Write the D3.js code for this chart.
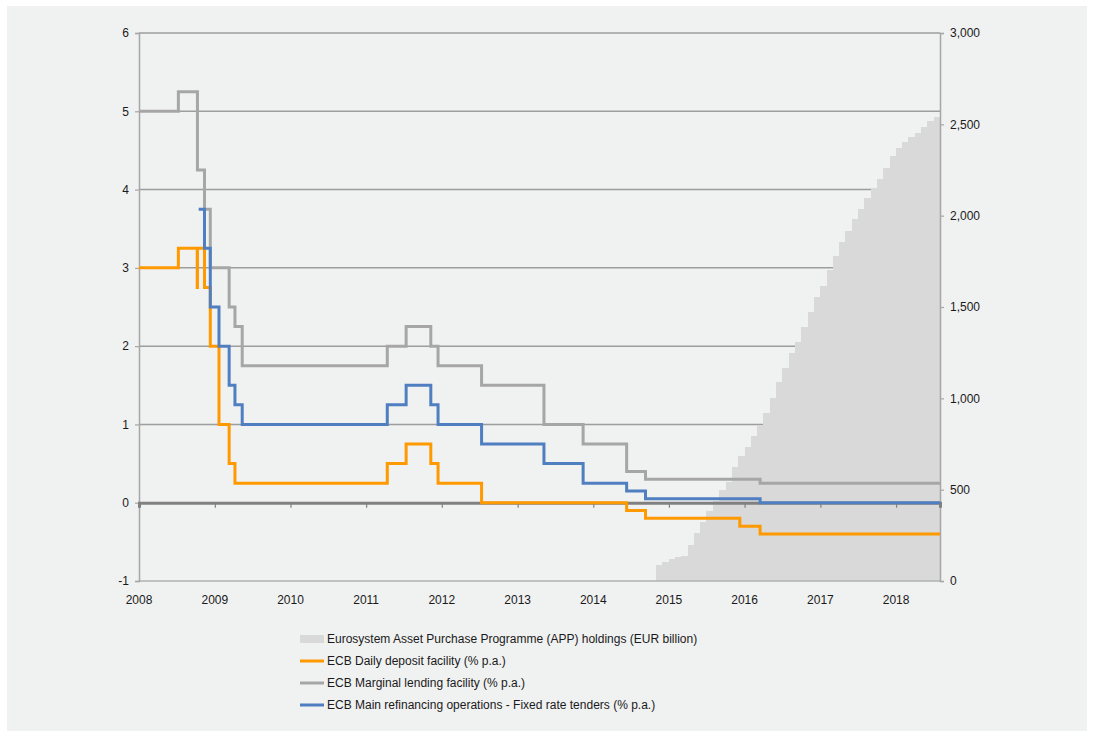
<!DOCTYPE html>
<html>
<head>
<meta charset="utf-8">
<script src="https://cdn.jsdelivr.net/npm/d3@7"></script>
<style>
  html, body { margin: 0; padding: 0; background: #ffffff; }
  svg { display: block; font-family: "Liberation Sans", Arial, sans-serif; }
</style>
</head>
<body>
<svg id="chart" width="1093" height="731"></svg>
<script>
// ---------------- DATA ----------------
const yearTicks = [2008, 2009, 2010, 2011, 2012, 2013, 2014, 2015, 2016, 2017, 2018];
const leftTicks = [-1, 0, 1, 2, 3, 4, 5, 6];
const rightTicks = [0, 500, 1000, 1500, 2000, 2500, 3000];

const appMonths = [
  "2014-11","2014-12",
  "2015-01","2015-02","2015-03","2015-04","2015-05","2015-06","2015-07","2015-08","2015-09","2015-10","2015-11","2015-12",
  "2016-01","2016-02","2016-03","2016-04","2016-05","2016-06","2016-07","2016-08","2016-09","2016-10","2016-11","2016-12",
  "2017-01","2017-02","2017-03","2017-04","2017-05","2017-06","2017-07","2017-08","2017-09","2017-10","2017-11","2017-12",
  "2018-01","2018-02","2018-03","2018-04","2018-05","2018-06","2018-07"
];
const appHoldings = [
  88, 102,
  119, 130, 137, 197, 261, 325, 385, 440, 498, 544, 622, 684,
  732, 794, 854, 918, 1000, 1091, 1164, 1246, 1307, 1389, 1471, 1556,
  1615, 1703, 1779, 1856, 1916, 1982, 2038, 2097, 2148, 2202, 2262, 2327,
  2370, 2401, 2431, 2453, 2483, 2518, 2540
];

const depositDates = ["2008-01-01","2008-07-09","2008-10-08","2008-10-09","2008-11-12","2008-12-10","2009-01-21","2009-03-11","2009-04-08","2011-04-13","2011-07-13","2011-11-09","2011-12-14","2012-07-11","2014-06-11","2014-09-10","2015-12-09","2016-03-16"];
const depositRates = [3.00, 3.25, 2.75, 3.25, 2.75, 2.00, 1.00, 0.50, 0.25, 0.50, 0.75, 0.50, 0.25, 0.00, -0.10, -0.20, -0.30, -0.40];

const lendingDates = ["2008-01-01","2008-07-09","2008-10-09","2008-11-12","2008-12-10","2009-03-11","2009-04-08","2009-05-13","2011-04-13","2011-07-13","2011-11-09","2011-12-14","2012-07-11","2013-05-08","2013-11-13","2014-06-11","2014-09-10","2016-03-16"];
const lendingRates = [5.00, 5.25, 4.25, 3.75, 3.00, 2.50, 2.25, 1.75, 2.00, 2.25, 2.00, 1.75, 1.50, 1.00, 0.75, 0.40, 0.30, 0.25];

const mroDates = ["2008-10-15","2008-11-12","2008-12-10","2009-01-21","2009-03-11","2009-04-08","2009-05-13","2011-04-13","2011-07-13","2011-11-09","2011-12-14","2012-07-11","2013-05-08","2013-11-13","2014-06-11","2014-09-10","2016-03-16"];
const mroRates = [3.75, 3.25, 2.50, 2.00, 1.50, 1.25, 1.00, 1.25, 1.50, 1.25, 1.00, 0.75, 0.50, 0.25, 0.15, 0.05, 0.00];

const startDate = "2008-01-01";
const endDate = "2018-08-01";

const legendLabels = [
  "Eurosystem Asset Purchase Programme (APP) holdings (EUR billion)",
  "ECB Daily deposit facility (% p.a.)",
  "ECB Marginal lending facility (% p.a.)",
  "ECB Main refinancing operations - Fixed rate tenders (% p.a.)"
];

// ---------------- DRAW ----------------
const parse = d3.timeParse("%Y-%m-%d");
const parseM = d3.timeParse("%Y-%m");
const svg = d3.select("#chart");

const colors = { app: "#d9d9d9", deposit: "#ff9900", lending: "#a6a6a6", mro: "#4f7fc0" };

// panel background
svg.append("rect").attr("x", 7).attr("y", 6).attr("width", 1080).attr("height", 726).attr("fill", "#f0f1f1");

const plot = { left: 139, right: 940, top: 33, bottom: 581 };

const x = d3.scaleTime().domain([parse(startDate), parse(endDate)]).range([plot.left, plot.right]);
const yL = d3.scaleLinear().domain([-1, 6]).range([plot.bottom, plot.top]);
const yR = d3.scaleLinear().domain([0, 3000]).range([plot.bottom, plot.top]);

// gridlines
svg.append("g").selectAll("line").data(leftTicks.filter(v => v !== 0 && v !== -1)).join("line")
  .attr("x1", plot.left).attr("x2", plot.right)
  .attr("y1", d => yL(d)).attr("y2", d => yL(d))
  .attr("stroke", "#9d9d9d").attr("stroke-width", 1.5);

// APP bars
const appData = appMonths.map((m, i) => ({ start: parseM(m), value: appHoldings[i] }));
svg.append("g").selectAll("rect").data(appData).join("rect")
  .attr("x", d => x(d.start))
  .attr("width", d => x(d3.timeMonth.offset(d.start, 1)) - x(d.start) + 0.4)
  .attr("y", d => yR(d.value))
  .attr("height", d => yR(0) - yR(d.value))
  .attr("fill", colors.app)
  .attr("shape-rendering", "crispEdges");

// bottom line at -1
svg.append("line").attr("x1", plot.left).attr("x2", plot.right)
  .attr("y1", yL(-1)).attr("y2", yL(-1))
  .attr("stroke", "#b0b0b0").attr("stroke-width", 1.5);

// left axis
const gL = svg.append("g").attr("transform", `translate(${plot.left},0)`)
  .call(d3.axisLeft(yL).tickValues(leftTicks).tickSize(4).tickPadding(6).tickFormat(d => String(d)));
gL.select(".domain").attr("stroke", "#a6a6a6").attr("stroke-width", 1.5);
gL.selectAll(".tick line").attr("stroke", "#a6a6a6").attr("stroke-width", 1.2);
gL.selectAll(".tick text").attr("font-size", 12).attr("fill", "#1a1a1a")
  .attr("font-family", "'Liberation Sans', Arial, sans-serif");

// right axis
const gR = svg.append("g").attr("transform", `translate(${plot.right},0)`)
  .call(d3.axisRight(yR).tickValues(rightTicks).tickSize(4).tickPadding(6).tickFormat(d3.format(",")));
gR.select(".domain").attr("stroke", "#a6a6a6").attr("stroke-width", 1.5);
gR.selectAll(".tick line").attr("stroke", "#a6a6a6").attr("stroke-width", 1.2);
gR.selectAll(".tick text").attr("font-size", 12).attr("fill", "#1a1a1a")
  .attr("font-family", "'Liberation Sans', Arial, sans-serif");

// zero axis with year ticks
const gX = svg.append("g").attr("transform", `translate(0,${yL(0)})`)
  .call(d3.axisBottom(x).tickValues(yearTicks.map(y => new Date(y, 0, 1))).tickSize(5).tickFormat(""));
gX.select(".domain").attr("stroke", "#808080").attr("stroke-width", 3);
gX.selectAll(".tick line").attr("stroke", "#808080").attr("stroke-width", 1.2);

// year labels at bottom
svg.append("g").selectAll("text").data(yearTicks).join("text")
  .attr("x", d => x(new Date(d, 0, 1)))
  .attr("y", 604)
  .attr("text-anchor", "middle")
  .attr("font-size", 12).attr("fill", "#1a1a1a")
  .text(d => d);

// rate lines
function series(dates, rates) {
  const pts = dates.map((d, i) => ({ date: parse(d), value: rates[i] }));
  pts.push({ date: parse(endDate), value: rates[rates.length - 1] });
  return pts;
}
const line = d3.line().x(d => x(d.date)).y(d => yL(d.value)).curve(d3.curveStepAfter);

[[depositDates, depositRates, colors.deposit],
 [lendingDates, lendingRates, colors.lending],
 [mroDates, mroRates, colors.mro]].forEach(([dts, rts, c]) => {
  svg.append("path").datum(series(dts, rts))
    .attr("d", line).attr("fill", "none")
    .attr("stroke", c).attr("stroke-width", 3)
    .attr("stroke-linejoin", "miter");
});

// legend
const legY = [639, 661, 683, 705];
const legKeys = ["app", "deposit", "lending", "mro"];
const leg = svg.append("g");
legKeys.forEach((k, i) => {
  if (k === "app") {
    leg.append("rect").attr("x", 300).attr("y", legY[i] - 4).attr("width", 24).attr("height", 8).attr("fill", colors.app);
  } else {
    leg.append("line").attr("x1", 300).attr("x2", 324).attr("y1", legY[i]).attr("y2", legY[i])
      .attr("stroke", colors[k]).attr("stroke-width", 3);
  }
  leg.append("text").attr("x", 327).attr("y", legY[i]).attr("dy", "0.35em")
    .attr("font-size", 12).attr("fill", "#1a1a1a").text(legendLabels[i]);
});
</script>
</body>
</html>
